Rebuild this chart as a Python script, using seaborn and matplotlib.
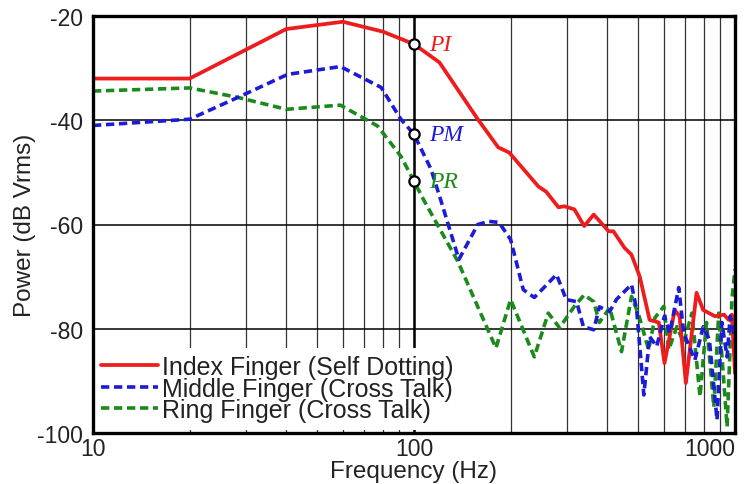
import matplotlib
matplotlib.use("Agg")
import matplotlib.pyplot as plt
import numpy as np
import pandas as pd
import seaborn as sns
from matplotlib.ticker import FixedLocator, NullFormatter

# ---- data ----
freq_index = [10, 20, 40, 60, 80, 100, 120, 158, 183, 198, 244, 258, 282, 294, 316,
              339, 363, 404, 418, 453, 476, 505, 542, 579, 603, 649, 672, 703, 759,
              796, 866, 924, 956, 978, 1000]
power_index = [-32, -32, -22.5, -21.1, -23, -25.4, -28.9, -39.8, -45.2, -46.2, -52.7,
               -53.7, -56.7, -56.5, -57.1, -60.3, -58.1, -61.3, -61.3, -64.5, -65.8,
               -70, -78.3, -78.8, -86.6, -76.4, -77.6, -90.4, -73.1, -76.4, -77.6,
               -77.3, -78.3, -77.3, -88.5]

freq_middle = [10, 20, 27.4, 40.4, 59, 79, 91, 100, 113, 121, 138, 158, 171, 184, 200,
               219, 237, 278, 298, 321, 337, 363, 378, 407, 427, 476, 494, 520, 542,
               570, 603, 626, 668, 692, 750, 796, 832, 879, 910, 945, 966, 1000]
power_middle = [-41, -39.8, -36, -31.2, -29.7, -33.7, -39.8, -42.7, -49.4, -55.2,
                -66.7, -60, -59.4, -59.6, -62.9, -72.5, -74, -69.6, -74.4, -74.8,
                -79.6, -80.2, -75.8, -76.7, -74.4, -71.5, -76.4, -92.7, -81.5, -83.4,
                -77.6, -80.8, -72.1, -80.8, -86, -79.6, -82.1, -97.5, -78.8, -85.4,
                -77.6, -82]

freq_ring = [10, 20, 28.2, 40, 59, 77, 91, 100, 107, 137, 180, 200, 237, 262, 284, 316,
             339, 363, 378, 407, 443, 476, 501, 538, 563, 600, 622, 659, 692, 734, 778,
             815, 859, 890, 945, 978, 1000]
power_ring = [-34.4, -33.8, -35.6, -37.9, -37.1, -41.1, -46.9, -51.7, -55.2, -67.1,
              -83.7, -74.4, -85.4, -77, -79.8, -75.7, -73.5, -74.8, -78.8, -76, -84.4,
              -73.8, -77.3, -84, -77.9, -75.7, -84, -79.6, -82.7, -77, -93, -78.8, -95,
              -77, -98.8, -74.4, -68.6]

series_labels = ["Index Finger (Self Dotting)", "Middle Finger (Cross Talk)",
                 "Ring Finger (Cross Talk)"]
marker_freq = [100, 100, 100]
marker_power = [-25.4, -42.7, -51.7]
marker_labels = ["PI", "PM", "PR"]

x_ticks = [10, 100, 1000]
x_minor = [20, 30, 40, 50, 60, 70, 80, 90, 200, 300, 400, 500, 600, 700, 800, 900]
y_ticks = [-100, -80, -60, -40, -20]

colors = ["#ee1c1c", "#1c1cd6", "#1a8a1a"]

# ---- figure ----
sns.set_style("white")
plt.rcParams["font.family"] = ["Liberation Sans", "DejaVu Sans"]

fig = plt.figure(figsize=(7.45, 4.85), dpi=100)
ax = fig.add_axes([93 / 745, 1 - 434 / 485, (735 - 93) / 745, (434 - 17) / 485])

df_i = pd.DataFrame({"f": freq_index, "p": power_index})
df_m = pd.DataFrame({"f": freq_middle, "p": power_middle})
df_r = pd.DataFrame({"f": freq_ring, "p": power_ring})

sns.lineplot(data=df_i, x="f", y="p", ax=ax, color=colors[0], lw=2.7,
             label=series_labels[0], estimator=None, sort=False, zorder=4)
sns.lineplot(data=df_m, x="f", y="p", ax=ax, color=colors[1], lw=2.6,
             label=series_labels[1], estimator=None, sort=False, zorder=4,
             linestyle=(0, (2.3, 1.3)))
sns.lineplot(data=df_r, x="f", y="p", ax=ax, color=colors[2], lw=2.6,
             label=series_labels[2], estimator=None, sort=False, zorder=3,
             linestyle=(0, (2.3, 1.3)))

ax.set_xscale("log")
ax.set_xlim(10, 1000)
ax.set_ylim(-100, -20)
ax.xaxis.set_major_locator(FixedLocator(x_ticks))
ax.xaxis.set_minor_locator(FixedLocator(x_minor))
ax.xaxis.set_minor_formatter(NullFormatter())
ax.set_xticklabels([str(t) for t in x_ticks])
ax.set_yticks(y_ticks)
ax.set_yticklabels([str(t) for t in y_ticks])

ax.grid(True, which="both", axis="x", color="#333333", lw=0.9, zorder=1)
ax.grid(True, which="major", axis="y", color="black", lw=1.1, zorder=1)
ax.set_axisbelow(True)
ax.axvline(100, color="black", lw=1.8, zorder=2)

ax.tick_params(axis="both", which="both", direction="in", labelsize=16.5,
               colors="#222222", length=6, width=1.2)
ax.tick_params(axis="y", pad=7)
ax.tick_params(axis="x", pad=3)
for sp in ax.spines.values():
    sp.set_linewidth(2.4)
    sp.set_color("black")
    sp.set_zorder(10)

lbls = ax.get_xticklabels()
lbls[-1].set_ha("right")

ax.set_xlabel("Frequency (Hz)", fontsize=17.5, color="#222222", labelpad=0)
ax.set_ylabel("Power (dB Vrms)", fontsize=17.5, color="#222222", labelpad=1)

sns.scatterplot(x=marker_freq, y=marker_power, ax=ax, s=55, color="white",
                edgecolor="black", linewidth=1.6, zorder=7, legend=False)
for mf, mp, ml, c in zip(marker_freq, marker_power, marker_labels, colors):
    ax.annotate(ml, (mf, mp), xytext=(11, 0), textcoords="offset points",
                ha="left", va="center", color=c, fontsize=17,
                family=["Liberation Serif", "DejaVu Serif"], style="italic",
                zorder=8)

leg = ax.legend(loc="lower left", bbox_to_anchor=(0, 0.008), borderaxespad=0,
                frameon=True, fancybox=False, framealpha=1, facecolor="white",
                edgecolor="none", fontsize=18, handlelength=2.3,
                handletextpad=0.15, borderpad=0.3, labelspacing=-0.1)
leg.set_zorder(9)
for t in leg.get_texts():
    t.set_color("#222222")

fig.savefig("out.png", dpi=100)
